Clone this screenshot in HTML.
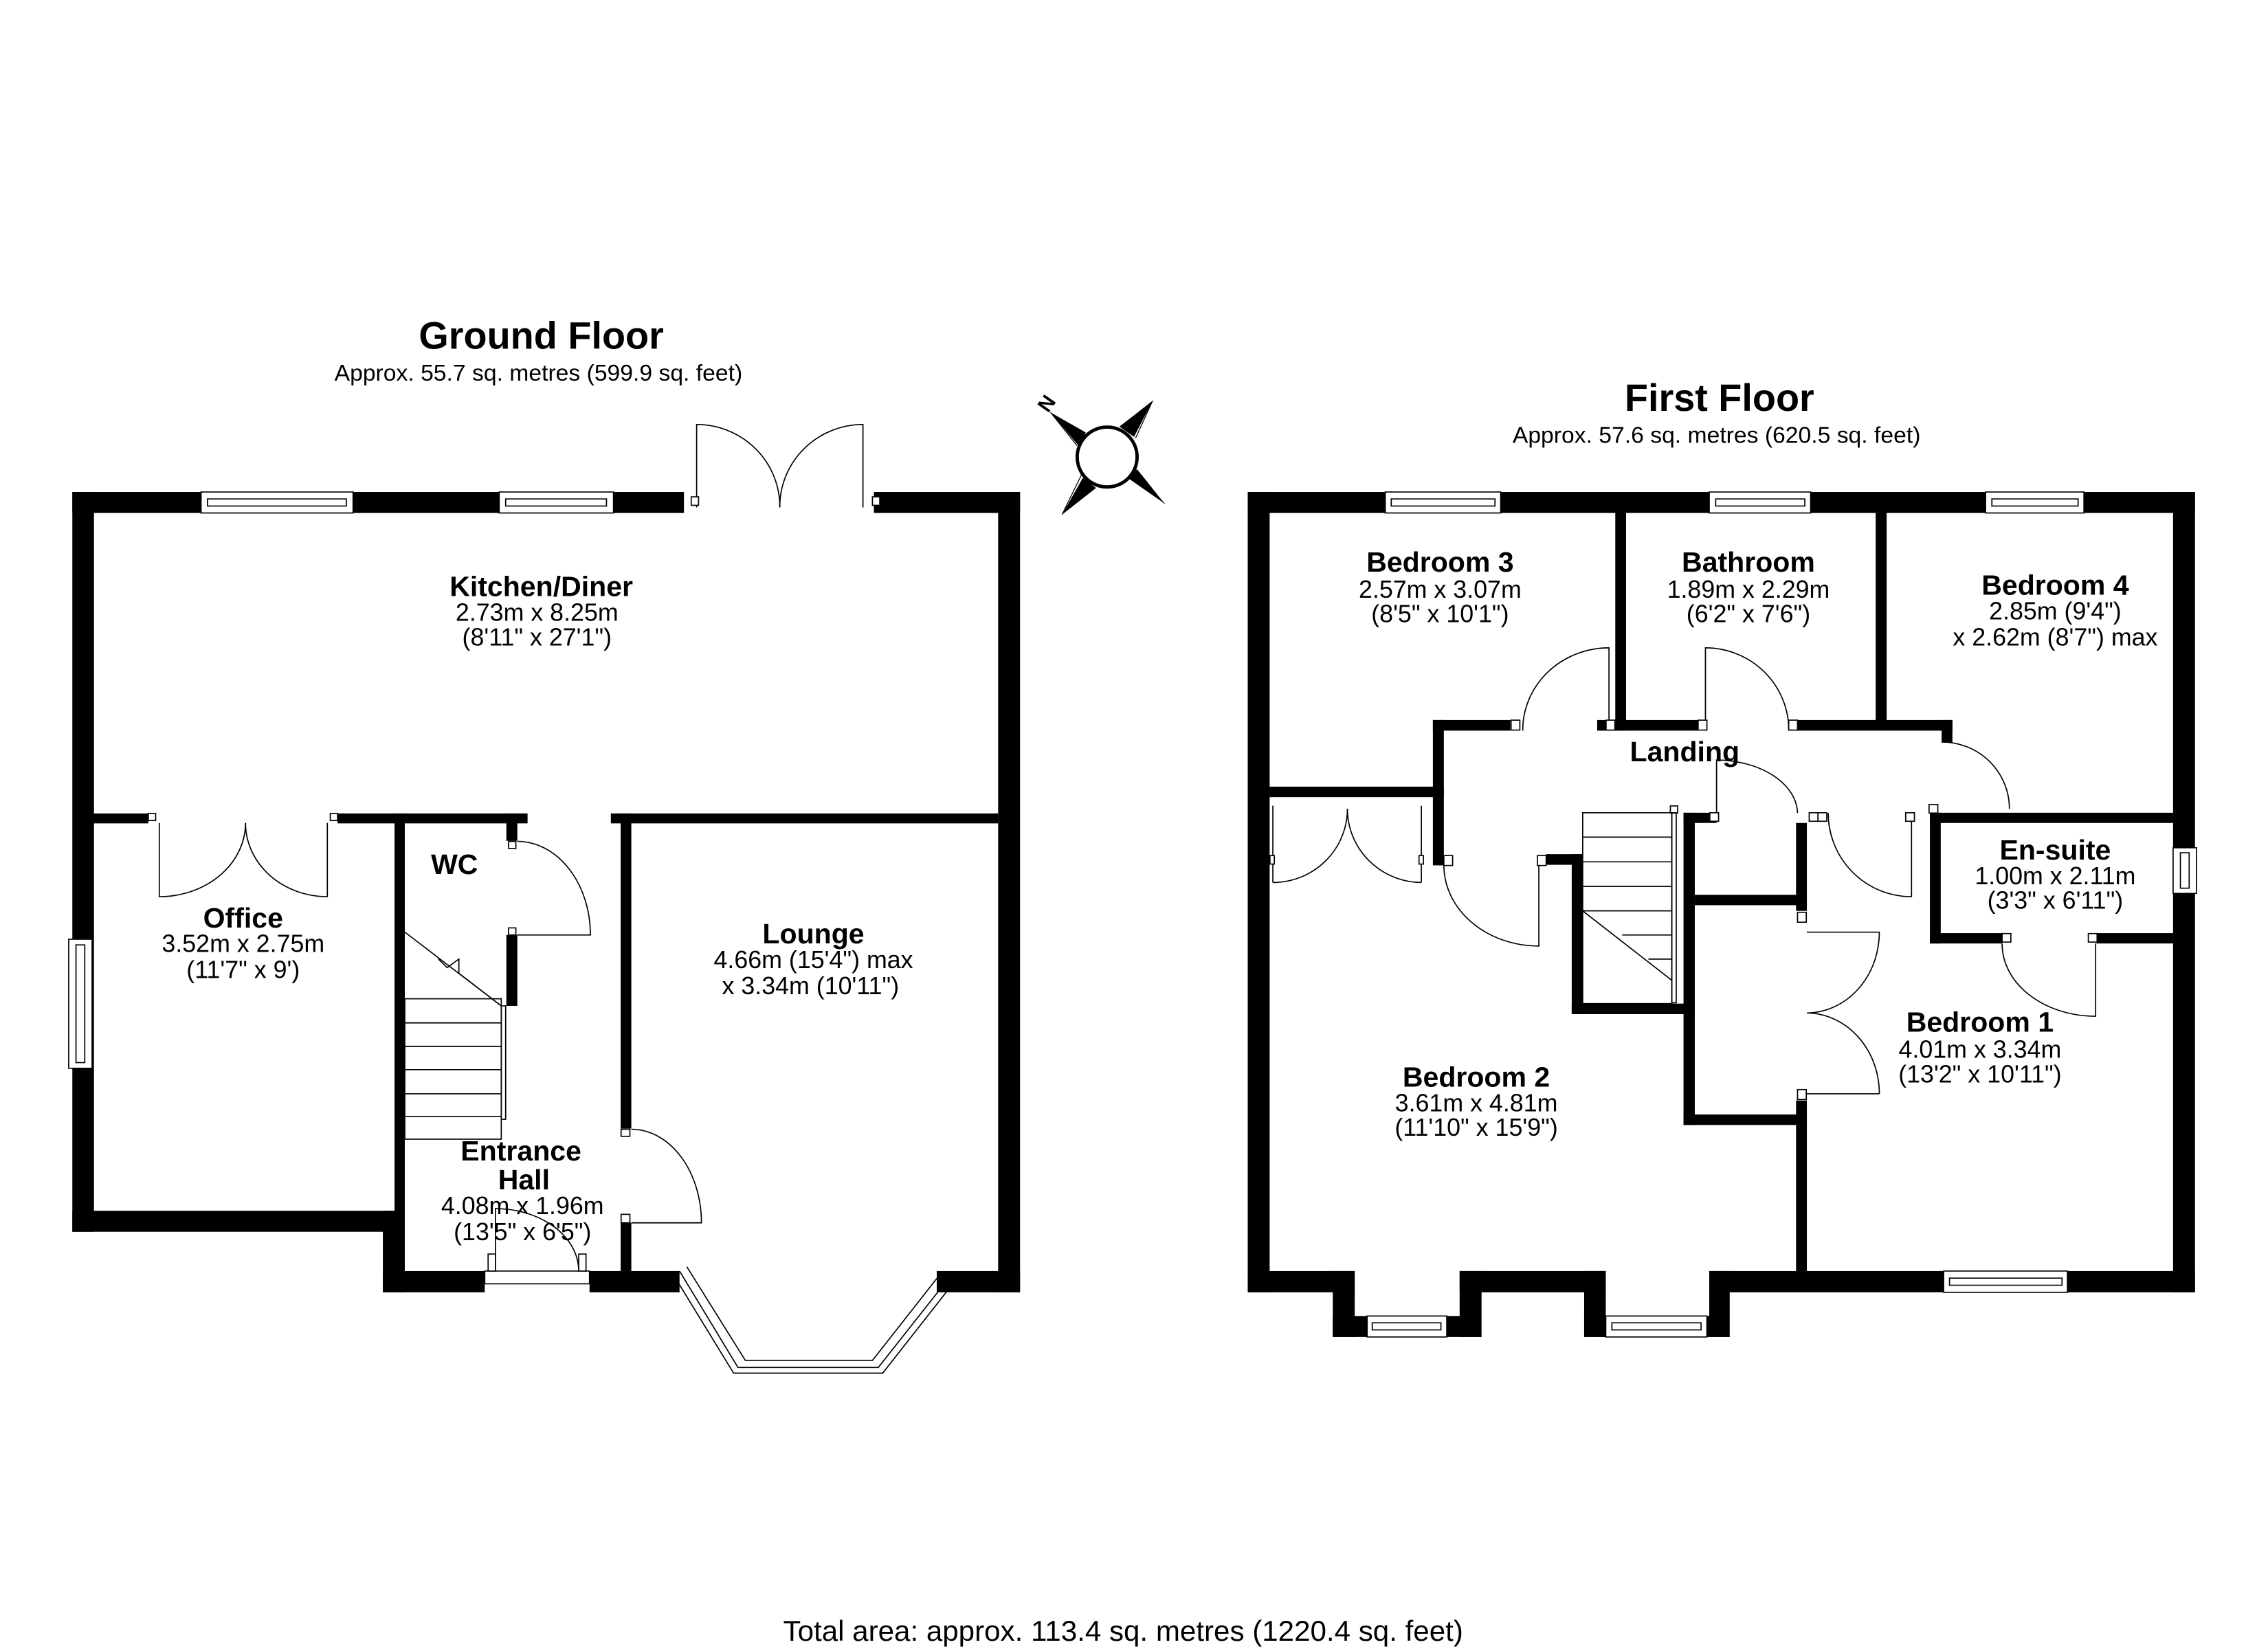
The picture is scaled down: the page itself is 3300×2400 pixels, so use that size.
<!DOCTYPE html>
<html><head><meta charset="utf-8"><style>
html,body{margin:0;padding:0;background:#fff;}
svg{display:block;}
text{font-family:"Liberation Sans",Arial,sans-serif;fill:#000;text-anchor:middle;}
.t{font-size:26.5px;font-weight:bold;}
.s{font-size:16px;}
.b{font-size:19.5px;font-weight:bold;}
.d{font-size:17px;}
.dr{fill:none;stroke:#000;stroke-width:0.8;}
.w{fill:#fff;stroke:#000;stroke-width:0.8;}
</style></head><body>
<svg width="3300" height="2400" viewBox="0 0 1567 1139.6" xmlns="http://www.w3.org/2000/svg">
<rect width="1567" height="1140" fill="#fff"/>
<g transform="matrix(1.0097 0 0 0.98 0 6.21)">
<!-- ============ GROUND FLOOR ============ -->
<g fill="#000">
<rect x="49.5" y="340.6" width="418.5" height="14.8"/>
<rect x="598" y="340.6" width="100" height="14.8"/>
<rect x="49.5" y="340.6" width="14.8" height="521.7"/>
<rect x="683" y="340.6" width="15" height="564.4"/>
<rect x="49.5" y="847.5" width="227.5" height="14.8"/>
<rect x="262" y="847.5" width="15" height="57.5"/>
<rect x="270" y="567.3" width="7" height="290"/>
<rect x="262" y="890" width="69.7" height="15"/>
<rect x="403.4" y="890" width="61.6" height="15"/>
<rect x="641" y="890" width="57" height="15"/>
<rect x="64" y="567.3" width="37.5" height="7"/>
<rect x="231" y="567.3" width="130" height="7"/>
<rect x="418" y="567.3" width="265" height="7"/>
<rect x="424.7" y="567.3" width="7.3" height="222.2"/>
<rect x="424.7" y="856" width="7.3" height="34"/>
<rect x="346.5" y="567.3" width="7.5" height="19.3"/>
<rect x="346.5" y="653" width="7.5" height="50"/>
</g>
<rect class="w" x="137.6" y="340.6" width="104" height="14.8"/><rect class="w" x="142" y="345.5" width="95" height="5"/>
<rect class="w" x="341.6" y="340.6" width="78.2" height="14.8"/><rect class="w" x="346" y="345.5" width="69" height="5"/>
<rect class="w" x="47" y="656" width="16" height="91"/><rect class="w" x="52" y="660" width="6" height="83"/>
<rect class="w" x="331.7" y="890" width="71.7" height="9"/>
<polyline points="465,890 505,958 601,958 648.5,896" class="dr" stroke-width="1.2"/>
<polyline points="470,887 510,953 597,953 642,894" class="dr"/>
<polyline points="461,893 502,962 604,962 652,899" class="dr"/>
<path class="dr" d="M476.7,351.5 V293 A57,58 0 0 1 533.6,351.5"/>
<path class="dr" d="M590.5,351.5 V293 A57,58 0 0 0 533.6,351.5"/>
<rect class="w" x="473" y="344" width="5" height="6"/><rect class="w" x="597" y="344" width="5" height="6"/>
<path class="dr" d="M109,574 V626 A59,52 0 0 0 168,574"/>
<path class="dr" d="M224,574 V626 A56,52 0 0 1 168,574"/>
<rect class="w" x="101.5" y="567.3" width="5" height="5"/><rect class="w" x="226" y="567.3" width="5" height="5"/>
<path class="dr" d="M354,653 H404 A50,66 0 0 0 354,587"/>
<rect class="w" x="348" y="587" width="5" height="5"/><rect class="w" x="348" y="648" width="5" height="5"/>
<path class="dr" d="M432,856 H480 A48,66 0 0 0 432,790"/>
<rect class="w" x="425" y="790" width="6" height="5"/><rect class="w" x="425" y="850" width="6" height="6"/>
<path class="dr" d="M339,890 V846 A57,44 0 0 1 396,890"/>
<rect class="w" x="334" y="878" width="5" height="12"/><rect class="w" x="396" y="878" width="5" height="12"/>
<g class="dr">
<line x1="277" y1="651" x2="343" y2="703"/>
<polyline points="300,670 306,676 314,670 314,680 343,703"/>
<rect x="277" y="698" width="66" height="99"/>
<line x1="277" y1="715" x2="343" y2="715"/><line x1="277" y1="731.6" x2="343" y2="731.6"/>
<line x1="277" y1="748" x2="343" y2="748"/><line x1="277" y1="765" x2="343" y2="765"/>
<line x1="277" y1="781" x2="343" y2="781"/>
<rect x="343" y="703" width="3" height="80"/>
</g>
<!-- ============ FIRST FLOOR ============ -->
<g fill="#000">
<rect x="853.8" y="340.6" width="648.2" height="14.8"/>
<rect x="853.8" y="340.6" width="15" height="564.4"/>
<rect x="1487" y="340.6" width="15" height="564.4"/>
<rect x="853.8" y="890" width="73.2" height="15"/>
<rect x="998.8" y="890" width="100" height="15"/>
<rect x="1169.6" y="890" width="332.4" height="15"/>
<rect x="912" y="890" width="15" height="46.5"/>
<rect x="998.8" y="890" width="15" height="46.5"/>
<rect x="912" y="921.7" width="101.7" height="14.8"/>
<rect x="1084" y="890" width="14.8" height="46.5"/>
<rect x="1169.6" y="890" width="14" height="46.5"/>
<rect x="1084" y="921.7" width="99.5" height="14.8"/>
<rect x="1105.3" y="355" width="7.4" height="153.9"/>
<rect x="1283.5" y="355" width="7.5" height="147"/>
<rect x="1112.7" y="501.4" width="49.3" height="7.5"/>
<rect x="1224" y="501.4" width="112" height="7.5"/>
<rect x="1328.6" y="501.4" width="7.4" height="16"/>
<rect x="980.5" y="501.4" width="53" height="7.5"/>
<rect x="1092.9" y="501.4" width="19.8" height="7.5"/>
<rect x="980.5" y="501.4" width="7.5" height="102.5"/>
<rect x="868.7" y="548.4" width="119.3" height="7.4"/>
<rect x="1058" y="596" width="25" height="7.5"/>
<rect x="1075.5" y="596" width="7.5" height="112.8"/>
<rect x="1075.5" y="701.4" width="84.2" height="7.4"/>
<rect x="1152" y="566.8" width="7.7" height="220.2"/>
<rect x="1152" y="779.6" width="84.4" height="7.4"/>
<rect x="1152" y="566.8" width="22.6" height="7.2"/>
<rect x="1159.7" y="624.7" width="76.7" height="7.3"/>
<rect x="1229" y="574" width="7.4" height="62"/>
<rect x="1229" y="769.7" width="7.4" height="120.3"/>
<rect x="1320.6" y="566.8" width="166.4" height="7.2"/>
<rect x="1320.6" y="566.8" width="7.4" height="92.2"/>
<rect x="1320.6" y="651.7" width="49.4" height="7.3"/>
<rect x="1434.5" y="651.7" width="52.5" height="7.3"/>
</g>
<rect class="w" x="947.9" y="340.6" width="79" height="14.8"/><rect class="w" x="952" y="345.5" width="71" height="5"/>
<rect class="w" x="1169.6" y="340.6" width="69.4" height="14.8"/><rect class="w" x="1174" y="345.5" width="61" height="5"/>
<rect class="w" x="1358.7" y="340.6" width="67.3" height="14.8"/><rect class="w" x="1363" y="345.5" width="59" height="5"/>
<rect class="w" x="1330" y="890" width="84.7" height="15"/><rect class="w" x="1334" y="895" width="77" height="5"/>
<rect class="w" x="935.5" y="921.7" width="54.5" height="14.8"/><rect class="w" x="939" y="926.5" width="47" height="5"/>
<rect class="w" x="1098.8" y="921.7" width="69.2" height="14.8"/><rect class="w" x="1103" y="926.5" width="61" height="5"/>
<rect class="w" x="1487" y="591.5" width="16" height="32.2"/><rect class="w" x="1492" y="595" width="6" height="25"/>
<path class="dr" d="M1101,508.9 V450.5 A59,58 0 0 0 1042,508.9"/>
<rect class="w" x="1034" y="501.5" width="6" height="7"/><rect class="w" x="1099" y="501.5" width="6" height="7"/>
<path class="dr" d="M1167,508.9 V450.5 A57,58 0 0 1 1224,508.9"/>
<rect class="w" x="1162" y="501.5" width="6" height="7"/><rect class="w" x="1224" y="501.5" width="6" height="7"/>
<path class="dr" d="M1329,517 A46,47 0 0 1 1375,564"/>
<rect class="w" x="1320" y="561" width="6" height="6"/>
<path class="dr" d="M1174.6,567 V529.6 A56,38 0 0 1 1230,567"/>
<rect class="w" x="1170" y="566.8" width="6" height="6"/>
<rect class="w" x="1238" y="566.8" width="6" height="6"/><rect class="w" x="1244" y="566.8" width="6" height="6"/>
<path class="dr" d="M1308,567 V626 A57,59 0 0 1 1251,567"/>
<rect class="w" x="1304" y="566.8" width="6" height="6"/>
<path class="dr" d="M1053,603.9 V660.8 A65,57 0 0 1 988,603.9"/>
<rect class="w" x="988" y="597" width="6" height="7"/><rect class="w" x="1052" y="597" width="6" height="7"/>
<path class="dr" d="M871,561.8 V616 M871,616 A51,52 0 0 0 922,564"/>
<path class="dr" d="M972.6,561.8 V616 M972.6,616 A51,52 0 0 1 922,564"/>
<path class="dr" d="M1236.4,651 H1286 A50,57 0 0 1 1236.4,708 A50,57 0 0 1 1286,765 V765"/>
<line class="dr" x1="1236.4" y1="765" x2="1286" y2="765"/>
<rect class="w" x="1230" y="637" width="6" height="7"/><rect class="w" x="1230" y="762" width="6" height="7"/>
<path class="dr" d="M1434,659 V710.3 A64,51 0 0 1 1370,659"/>
<rect class="w" x="1370" y="652" width="6" height="6"/><rect class="w" x="1429" y="652" width="6" height="6"/>
<rect class="w" x="869" y="597" width="3" height="6"/><rect class="w" x="971" y="597" width="3" height="6"/>
<g class="dr">
<rect x="1083" y="566.8" width="61" height="134.6"/>
<line x1="1083" y1="584" x2="1144" y2="584"/><line x1="1083" y1="601.4" x2="1144" y2="601.4"/>
<line x1="1083" y1="618.8" x2="1144" y2="618.8"/><line x1="1083" y1="636" x2="1144" y2="636"/>
<line x1="1083" y1="636" x2="1144" y2="685"/>
<line x1="1110" y1="653" x2="1144" y2="653"/><line x1="1128" y1="670" x2="1144" y2="670"/>
<rect x="1144" y="566.8" width="3" height="134"/><rect x="1143" y="562" width="5" height="5"/>
</g>
</g>
<!-- compass -->
<g transform="scale(1.0097)">
<polygon points="718.8,282.2 743,296 738,305" fill="#000"/>
<polygon points="788.7,274.3 776,299 766,292" fill="#000"/>
<polygon points="796.8,344.6 773,328 778,321" fill="#000"/>
<polygon points="726.7,352.3 741,327 750,334" fill="#000"/>
<line x1="718.8" y1="282.2" x2="737" y2="305" stroke="#000" stroke-width="0.6"/>
<line x1="788.7" y1="274.3" x2="777" y2="300" stroke="#000" stroke-width="0.6"/>
<line x1="796.8" y1="344.6" x2="776" y2="323" stroke="#000" stroke-width="0.6"/>
<line x1="726.7" y1="352.3" x2="740" y2="325" stroke="#000" stroke-width="0.6"/>
<circle cx="757.6" cy="312.8" r="20.5" fill="#fff" stroke="#000" stroke-width="2.3"/>
<text x="716" y="281" style="font-size:14px;font-weight:bold" transform="rotate(-55 716 276)">N</text>
</g>
<!-- text -->
<text x="374" y="241" class="t">Ground Floor</text>
<text x="372" y="263" class="s">Approx. 55.7 sq. metres (599.9 sq. feet)</text>
<text x="1188" y="284" class="t">First Floor</text>
<text x="1186" y="306" class="s">Approx. 57.6 sq. metres (620.5 sq. feet)</text>
<text x="374" y="412" class="b">Kitchen/Diner</text>
<text x="371" y="429" class="d">2.73m x 8.25m</text>
<text x="371" y="446" class="d">(8'11" x 27'1")</text>
<text x="168" y="641" class="b">Office</text>
<text x="168" y="658" class="d">3.52m x 2.75m</text>
<text x="168" y="676" class="d">(11'7" x 9')</text>
<text x="314" y="604" class="b">WC</text>
<text x="562" y="652" class="b">Lounge</text>
<text x="562" y="669" class="d">4.66m (15'4") max</text>
<text x="560" y="687" class="d">x 3.34m (10'11")</text>
<text x="360" y="802" class="b">Entrance</text>
<text x="362" y="822" class="b">Hall</text>
<text x="361" y="839" class="d">4.08m x 1.96m</text>
<text x="361" y="857" class="d">(13'5" x 6'5")</text>
<text x="995" y="395" class="b">Bedroom 3</text>
<text x="995" y="413" class="d">2.57m x 3.07m</text>
<text x="995" y="430" class="d">(8'5" x 10'1")</text>
<text x="1208" y="395" class="b">Bathroom</text>
<text x="1208" y="413" class="d">1.89m x 2.29m</text>
<text x="1208" y="430" class="d">(6'2" x 7'6")</text>
<text x="1420" y="411" class="b">Bedroom 4</text>
<text x="1420" y="428" class="d">2.85m (9'4")</text>
<text x="1420" y="446" class="d">x 2.62m (8'7") max</text>
<text x="1164" y="526" class="b">Landing</text>
<text x="1420" y="594" class="b">En-suite</text>
<text x="1420" y="611" class="d">1.00m x 2.11m</text>
<text x="1420" y="628" class="d">(3'3" x 6'11")</text>
<text x="1368" y="713" class="b">Bedroom 1</text>
<text x="1368" y="731" class="d">4.01m x 3.34m</text>
<text x="1368" y="748" class="d">(13'2" x 10'11")</text>
<text x="1020" y="751" class="b">Bedroom 2</text>
<text x="1020" y="768" class="d">3.61m x 4.81m</text>
<text x="1020" y="785" class="d">(11'10" x 15'9")</text>
<text x="776" y="1134" style="font-size:20px">Total area: approx. 113.4 sq. metres (1220.4 sq. feet)</text>
</svg>
</body></html>
